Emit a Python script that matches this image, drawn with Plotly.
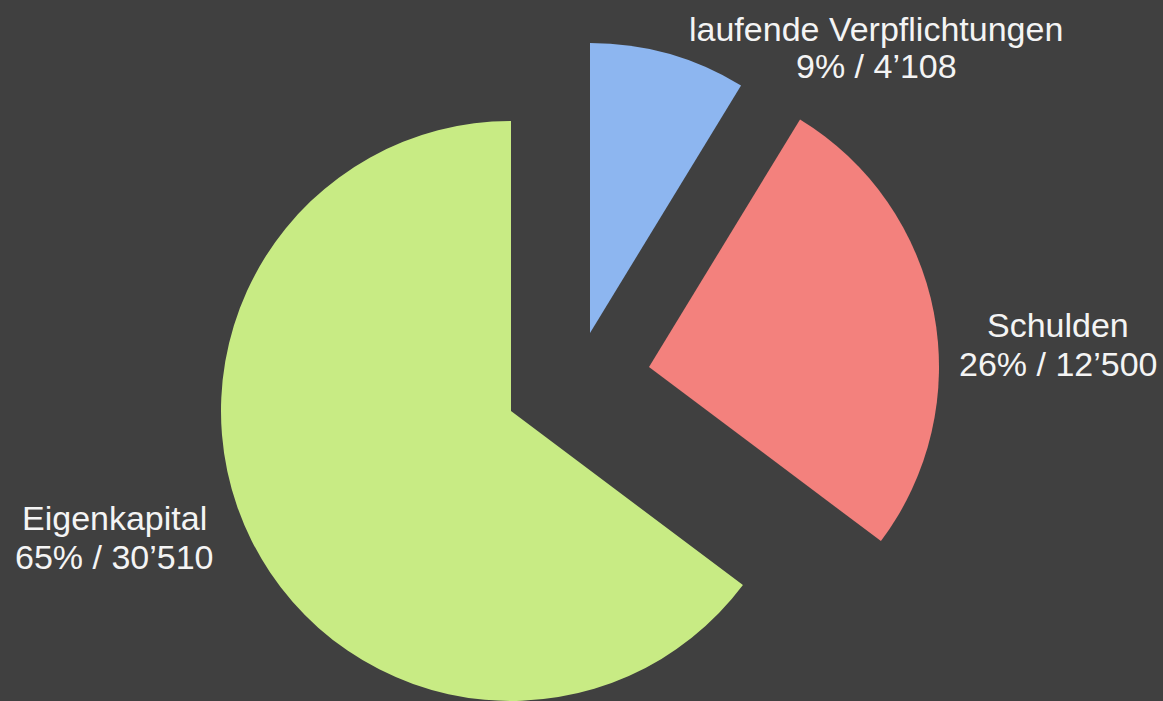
import plotly.graph_objects as go

# ---- data ----
categories = ["laufende Verpflichtungen", "Schulden", "Eigenkapital"]
values = [4108, 12500, 30510]
percent_labels = [9, 26, 65]
colors = ["#8db6f0", "#f3817d", "#c8eb84"]

W, H = 1163, 701
R = 290  # slice radius in px
# apex (tip) position of each exploded slice, in px from top-left
apex = [(590, 333), (649, 367), (511, 411)]
# label line centres, px: (x, y of first line, y of second line)
label_pos = [(876, 29, 66), (1058, 325, 364), (114, 518, 557)]


def fmt(v):
    return f"{v:,}".replace(",", "\u2019")


fig = go.Figure()
for i, cat in enumerate(categories):
    cx, cy = apex[i]
    marker_colors = [colors[j] if j == i else "rgba(0,0,0,0)" for j in range(len(values))]
    fig.add_trace(go.Pie(
        labels=categories,
        values=values,
        sort=False,
        direction="clockwise",
        rotation=0,
        marker=dict(colors=marker_colors, line=dict(width=0)),
        textinfo="none",
        hoverinfo="label+value+percent",
        showlegend=False,
        domain=dict(
            x=[(cx - R) / W, (cx + R) / W],
            y=[max(0, 1 - (cy + R) / H), min(1, 1 - (cy - R) / H)],
        ),
    ))

font = dict(family="Liberation Sans, Arial, sans-serif", size=34, color="#f4f4f4")
for i, cat in enumerate(categories):
    lx, ly1, ly2 = label_pos[i]
    fig.add_annotation(
        x=lx / W, y=1 - ly1 / H, xref="paper", yref="paper",
        xanchor="center", yanchor="middle",
        text=cat, showarrow=False, font=font,
    )
    fig.add_annotation(
        x=lx / W, y=1 - ly2 / H, xref="paper", yref="paper",
        xanchor="center", yanchor="middle",
        text=f"{percent_labels[i]}% / {fmt(values[i])}", showarrow=False, font=font,
    )

fig.update_layout(
    width=W, height=H,
    margin=dict(l=0, r=0, t=0, b=0),
    paper_bgcolor="#404040",
    plot_bgcolor="#404040",
    showlegend=False,
)

fig.write_html(
    "out.html",
    config={"displayModeBar": False},
    post_script="document.body.style.margin='0';document.body.style.background='#404040';",
)
